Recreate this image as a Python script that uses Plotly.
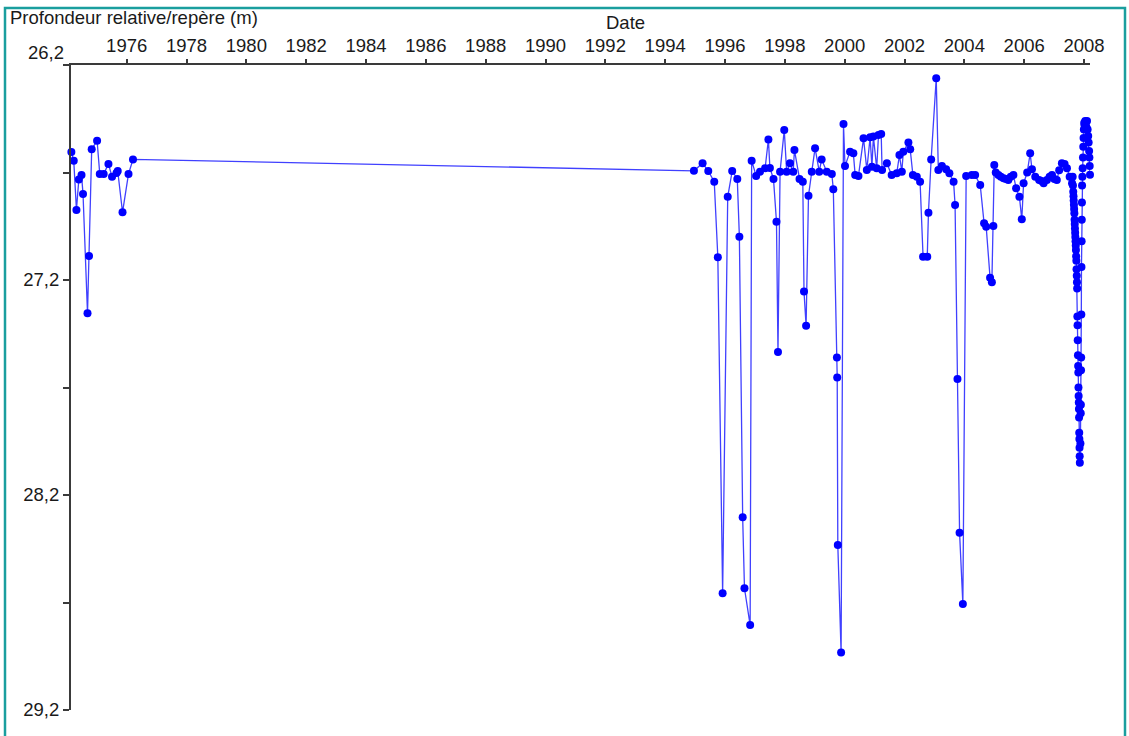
import plotly.graph_objects as go

# ---- data (decimal year, depth in m) ----
years_early = [1974.15, 1974.23, 1974.32, 1974.40, 1974.49, 1974.54, 1974.69, 1974.74,
               1974.83, 1975.01, 1975.10, 1975.23, 1975.39, 1975.51, 1975.66, 1975.70,
               1975.86, 1976.06, 1976.21]
depth_early = [26.605, 26.645, 26.874, 26.732, 26.712, 26.800, 27.355, 27.088,
               26.592, 26.552, 26.707, 26.707, 26.660, 26.720, 26.702, 26.693,
               26.885, 26.707, 26.639]

years_1995 = [1994.96, 1995.25, 1995.44, 1995.64, 1995.76, 1995.92, 1996.09, 1996.24,
              1996.41, 1996.48, 1996.59, 1996.65, 1996.84, 1996.89, 1997.04, 1997.17,
              1997.34, 1997.45, 1997.50, 1997.62, 1997.72, 1997.77, 1997.84, 1997.98,
              1998.06, 1998.17, 1998.28, 1998.32, 1998.49, 1998.60, 1998.64, 1998.71,
              1998.79, 1998.90, 1999.01, 1999.15, 1999.23, 1999.40, 1999.57, 1999.62,
              1999.74, 1999.75, 1999.77, 1999.88, 1999.96, 2000.01]
depth_1995 = [26.692, 26.657, 26.693, 26.743, 27.094, 28.657, 26.813, 26.693,
              26.730, 26.999, 28.304, 28.634, 28.805, 26.645, 26.716, 26.696,
              26.680, 26.546, 26.679, 26.730, 26.929, 27.535, 26.696, 26.502,
              26.696, 26.657, 26.696, 26.595, 26.730, 26.743, 27.254, 27.413,
              26.808, 26.696, 26.587, 26.696, 26.639, 26.696, 26.707, 26.778,
              27.560, 27.653, 28.433, 28.932, 26.474, 26.670]

years_2000 = [2000.18, 2000.29, 2000.35, 2000.46, 2000.63, 2000.74, 2000.85, 2000.91,
              2000.96, 2001.07, 2001.13, 2001.22, 2001.25, 2001.41, 2001.57, 2001.74,
              2001.83, 2001.91, 2001.96, 2002.13, 2002.19, 2002.28, 2002.41, 2002.52,
              2002.62, 2002.76, 2002.80, 2002.89, 2003.06, 2003.13, 2003.25, 2003.39,
              2003.50, 2003.64, 2003.69, 2003.77, 2003.84, 2003.95, 2004.06, 2004.25,
              2004.36, 2004.53, 2004.66, 2004.73, 2004.86, 2004.92, 2004.97, 2005.00,
              2005.05, 2005.14, 2005.22, 2005.31, 2005.39, 2005.47, 2005.55, 2005.64,
              2005.73, 2005.84, 2005.92, 2005.98, 2006.10, 2006.20, 2006.26, 2006.37,
              2006.50, 2006.58, 2006.65, 2006.76, 2006.85, 2006.93, 2007.01, 2007.09,
              2007.17, 2007.26, 2007.35, 2007.43, 2007.52, 2007.60]
depth_2000 = [26.603, 26.611, 26.712, 26.716, 26.541, 26.688, 26.536, 26.673,
              26.533, 26.680, 26.526, 26.521, 26.688, 26.657, 26.712, 26.704,
              26.619, 26.696, 26.603, 26.561, 26.592, 26.712, 26.720, 26.743,
              27.092, 27.092, 26.887, 26.639, 26.262, 26.688, 26.670, 26.685,
              26.704, 26.743, 26.851, 27.660, 28.375, 28.707, 26.716, 26.712,
              26.712, 26.758, 26.936, 26.952, 27.190, 27.210, 26.949, 26.665,
              26.700, 26.712, 26.720, 26.727, 26.730, 26.735, 26.720, 26.712,
              26.773, 26.813, 26.918, 26.750, 26.700, 26.611, 26.685, 26.720,
              26.735, 26.740, 26.750, 26.735, 26.720, 26.712, 26.730, 26.735,
              26.690, 26.657, 26.660, 26.680, 26.720, 26.750]

years_2007 = [2007.620, 2007.630, 2007.640, 2007.648, 2007.655, 2007.662, 2007.670,
              2007.677, 2007.684, 2007.690, 2007.697, 2007.704, 2007.710, 2007.717,
              2007.724, 2007.730, 2007.737, 2007.744, 2007.750, 2007.757, 2007.764,
              2007.770, 2007.777, 2007.784, 2007.790, 2007.797, 2007.804, 2007.810,
              2007.815, 2007.820, 2007.825, 2007.830, 2007.835, 2007.840, 2007.845,
              2007.850, 2007.855, 2007.860, 2007.880, 2007.890, 2007.895, 2007.900,
              2007.905, 2007.910, 2007.915, 2007.920, 2007.925, 2007.930, 2007.935,
              2007.945, 2007.955, 2007.965, 2007.975, 2007.985, 2007.995, 2008.005,
              2008.020, 2008.040, 2008.060, 2008.080, 2008.100, 2008.120, 2008.140,
              2008.155, 2008.170, 2008.180, 2008.190, 2008.200]
depth_2007 = [26.720, 26.760, 26.790, 26.810, 26.830, 26.850, 26.870,
              26.890, 26.920, 26.940, 26.960, 26.980, 27.000, 27.020,
              27.040, 27.060, 27.090, 27.110, 27.150, 27.180, 27.210,
              27.240, 27.370, 27.410, 27.480, 27.550, 27.600, 27.630,
              27.700, 27.740, 27.770, 27.800, 27.840, 27.910, 27.940,
              27.980, 28.020, 28.050, 27.960, 27.820, 27.780, 27.620,
              27.560, 27.360, 27.140, 27.020, 26.920, 26.840, 26.760,
              26.720, 26.680, 26.630, 26.580, 26.540, 26.500, 26.470,
              26.480, 26.460, 26.470, 26.490, 26.460, 26.500, 26.530,
              26.560, 26.600, 26.630, 26.670, 26.710]

years = years_early + years_1995 + years_2000 + years_2007
depth = depth_early + depth_1995 + depth_2000 + depth_2007

x_ticks = [1976, 1978, 1980, 1982, 1984, 1986, 1988, 1990, 1992, 1994, 1996, 1998,
           2000, 2002, 2004, 2006, 2008]
y_ticks = [26.2, 26.7, 27.2, 27.7, 28.2, 28.7, 29.2]
y_ticktext = ["", "", "27,2", "", "28,2", "", "29,2"]

FONT = "Liberation Sans, Arial, sans-serif"
TXT = "#1a1a1a"
AX = "#3a3a3a"

fig = go.Figure()
fig.add_trace(go.Scatter(
    x=years, y=depth, mode="lines+markers",
    line=dict(color="#4040ff", width=1.3),
    marker=dict(color="#0000ff", size=8, symbol="circle"),
    cliponaxis=False, showlegend=False,
))

W, H = 1129, 736
L, R, T, B = 71, 39, 65, 26

def px_x(p):
    return (p - L) / (W - L - R)

def px_y(p):
    return (H - B - p) / (H - T - B)

fig.update_layout(
    width=W, height=H,
    margin=dict(l=L, r=R, t=T, b=B),
    paper_bgcolor="white", plot_bgcolor="white",
    font=dict(family=FONT, size=18.5, color=TXT),
    separators=", ",
    xaxis=dict(
        side="top", range=[1974.138, 2008.20], tickvals=x_ticks,
        ticktext=[str(v) for v in x_ticks],
        showline=True, linecolor=AX, linewidth=2,
        ticks="outside", ticklen=4, tickwidth=1.5, tickcolor=AX,
        showgrid=False, zeroline=False,
        tickfont=dict(family=FONT, size=18.5, color=TXT),
    ),
    yaxis=dict(
        range=[29.2, 26.2], tickvals=y_ticks, ticktext=y_ticktext,
        showline=True, linecolor=AX, linewidth=2,
        ticks="outside", ticklen=6, tickwidth=1.5, tickcolor=AX,
        showgrid=False, zeroline=False,
        tickfont=dict(family=FONT, size=18.5, color=TXT),
    ),
    shapes=[dict(
        type="rect", xref="paper", yref="paper",
        x0=px_x(5), x1=px_x(1125), y0=px_y(745), y1=px_y(8),
        line=dict(color="#1a9e9e", width=2.5), fillcolor="rgba(0,0,0,0)", layer="below",
    )],
    annotations=[
        dict(text="Profondeur relative/repère (m)", xref="paper", yref="paper",
             x=px_x(8), y=px_y(18), xanchor="left", yanchor="middle",
             showarrow=False, font=dict(family=FONT, size=18.5, color=TXT)),
        dict(text="Date", xref="paper", yref="paper",
             x=px_x(625), y=px_y(22), xanchor="center", yanchor="middle",
             showarrow=False, font=dict(family=FONT, size=18.5, color=TXT)),
        dict(text="26,2", xref="paper", yref="y",
             x=px_x(66), y=26.2, xanchor="right", yanchor="bottom",
             showarrow=False, font=dict(family=FONT, size=18.5, color=TXT)),
    ],
)

fig.write_html("out.html", config={"displayModeBar": False},
               post_script="document.body.style.margin='0';")
